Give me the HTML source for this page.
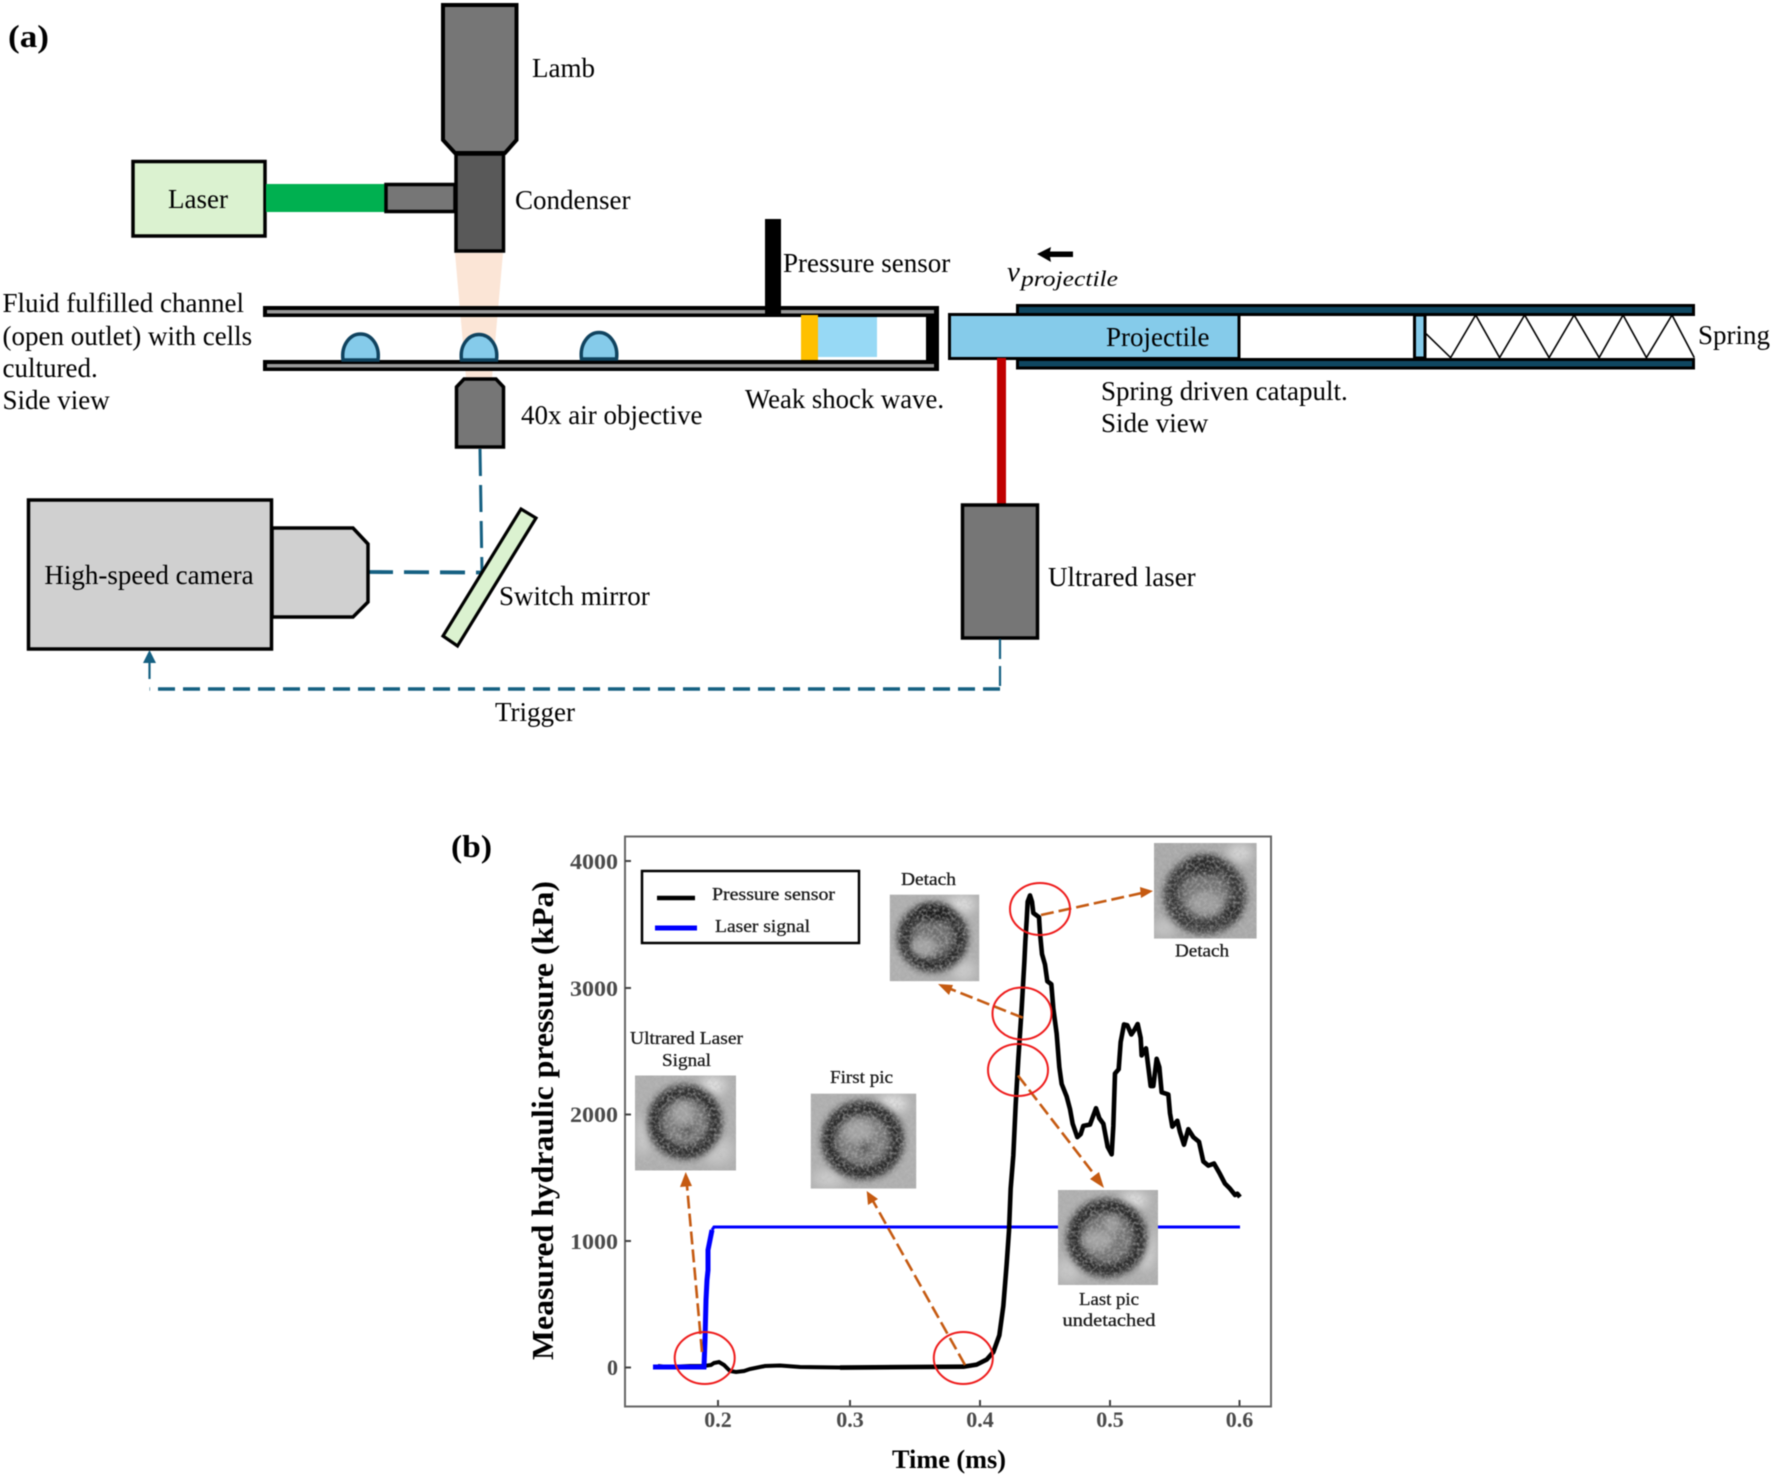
<!DOCTYPE html>
<html>
<head>
<meta charset="utf-8">
<style>
html,body{margin:0;padding:0;background:#fff}
svg{display:block}
#root{filter:blur(0.45px)}
text{font-family:"Liberation Serif",serif;fill:#000}
.t{font-size:27px}
.c{font-size:18px;fill:#1a1a1a;stroke:#1a1a1a;stroke-width:.3px}
.tick{font-size:22px;font-weight:bold;fill:#4a4a4a}
</style>
</head>
<body>
<svg id="root" width="1772" height="1477" viewBox="0 0 1772 1477" xmlns="http://www.w3.org/2000/svg">
<defs>
<filter id="b2" x="-30%" y="-30%" width="160%" height="160%"><feGaussianBlur stdDeviation="3.2"/></filter>
<filter id="b3" x="-30%" y="-30%" width="160%" height="160%"><feGaussianBlur stdDeviation="3.5"/></filter>
<filter id="b6" x="-50%" y="-50%" width="200%" height="200%"><feGaussianBlur stdDeviation="5"/></filter>
<filter id="noise" x="0" y="0" width="100%" height="100%">
<feTurbulence type="fractalNoise" baseFrequency="0.34" numOctaves="2" seed="7"/>
<feColorMatrix type="matrix" values="0 0 0 0 0.5  0 0 0 0 0.5  0 0 0 0 0.5  1.4 0 0 0 -0.55"/>
</filter>
</defs>

<rect width="1772" height="1477" fill="#fff"/>

<!-- (a) -->
<text x="8" y="47" font-size="32" font-weight="bold" textLength="41" lengthAdjust="spacingAndGlyphs">(a)</text>

<!-- Lamb -->
<polygon points="443,5 516.5,5 516.5,140 505,153 455,153 443,140" fill="#767676" stroke="#000" stroke-width="4"/>
<text class="t" x="532" y="77">Lamb</text>

<!-- Laser -->
<rect x="133" y="161.5" width="132" height="74.5" fill="#dbf2d0" stroke="#000" stroke-width="3.5"/>
<text class="t" x="198" y="208" text-anchor="middle">Laser</text>
<rect x="266" y="184" width="120" height="28" fill="#00b050"/>
<rect x="386" y="184.5" width="69" height="27" fill="#767676" stroke="#000" stroke-width="3.5"/>

<!-- Condenser -->
<rect x="456" y="154" width="47.5" height="97" fill="#595959" stroke="#000" stroke-width="3.5"/>
<text class="t" x="515" y="209">Condenser</text>

<!-- Light cone -->
<polygon points="455,253 503,253 492,378 466,378" fill="#fbe5d6"/>

<!-- Channel -->
<rect x="926" y="306" width="13" height="65" fill="#000"/>
<rect x="263" y="306" width="676" height="11" fill="#000"/>
<rect x="267" y="310" width="667" height="3.5" fill="#999"/>
<rect x="263" y="360" width="676" height="11" fill="#000"/>
<rect x="267" y="364" width="667" height="3.5" fill="#999"/>

<!-- Pressure sensor -->
<rect x="765" y="219" width="16" height="96" fill="#000"/>
<text class="t" x="783" y="272">Pressure sensor</text>

<!-- shock -->
<rect x="818" y="317" width="59" height="40" fill="#97d9f5"/>
<rect x="801" y="315" width="17" height="45" fill="#ffc000"/>
<text class="t" x="745" y="408" textLength="199" lengthAdjust="spacingAndGlyphs">Weak shock wave.</text>

<!-- Cells -->
<path d="M343,360 C341,345 350,334 360.5,334 C371,334 380,345 378,360 Z" fill="#85cbea" stroke="#10435f" stroke-width="3.5"/>
<path d="M461.5,360 C459.5,345 468.5,334.5 479,334.5 C489.5,334.5 498.5,345 496.5,360 Z" fill="#85cbea" stroke="#10435f" stroke-width="3.5"/>
<path d="M581.5,359 C579.5,344 588.5,332.5 599,332.5 C609.5,332.5 618.5,344 616.5,359 Z" fill="#85cbea" stroke="#10435f" stroke-width="3.5"/>

<!-- Channel labels -->
<text class="t" x="2.5" y="312">Fluid fulfilled channel</text>
<text class="t" x="2.5" y="345">(open outlet) with cells</text>
<text class="t" x="2.5" y="377">cultured.</text>
<text class="t" x="2.5" y="409">Side view</text>

<!-- Objective -->
<polygon points="456.5,447 456.5,387 464,379 496,379 503.5,387 503.5,447" fill="#767676" stroke="#000" stroke-width="3.5"/>
<text class="t" x="521" y="424">40x air objective</text>

<!-- Optical path -->
<line x1="480" y1="449" x2="482" y2="573" stroke="#156082" stroke-width="3" stroke-dasharray="27 9"/>
<line x1="368" y1="572" x2="482" y2="572.5" stroke="#156082" stroke-width="3.8" stroke-dasharray="25 11"/>

<!-- Mirror -->
<polygon points="521,509 536,518 457.5,646 443,636" fill="#dbf2d0" stroke="#000" stroke-width="3.2"/>
<text class="t" x="499" y="605">Switch mirror</text>

<!-- Camera -->
<polygon points="272,528 353,528 368,544 368,602 353,617 272,617" fill="#d0d0d0" stroke="#000" stroke-width="3.5"/>
<rect x="28.5" y="500" width="243" height="149" fill="#d0d0d0" stroke="#000" stroke-width="3.5"/>
<text class="t" x="149" y="584" text-anchor="middle">High-speed camera</text>

<!-- Catapult -->
<rect x="1017.5" y="305.5" width="676" height="9" fill="#0f4761" stroke="#000" stroke-width="3"/>
<rect x="1017.5" y="359.5" width="676" height="8.5" fill="#0f4761" stroke="#000" stroke-width="3"/>
<rect x="949.5" y="314.5" width="289.5" height="44" fill="#85cbea" stroke="#000" stroke-width="3"/>
<text class="t" x="1106" y="346">Projectile</text>
<rect x="1414.5" y="315" width="10.5" height="43" fill="#85cbea" stroke="#000" stroke-width="3"/>
<g transform="translate(900,200) scale(0.5562,0.3333)">
<polyline points="945,400 990,473 1035,345 1078,473 1123,345 1167,473 1212,345 1257,473 1300,345 1342,473 1388,345 1428,473" fill="none" stroke="#000" stroke-width="1.6" vector-effect="non-scaling-stroke"/>
</g>
<text class="t" x="1698" y="344">Spring</text>
<text class="t" x="1101" y="400">Spring driven catapult.</text>
<text class="t" x="1101" y="432">Side view</text>

<!-- v arrow -->
<polygon points="1037,254 1051,247 1050,251.5 1073,251.5 1073,257 1050,257 1051,262" fill="#000"/>
<text x="1007" y="281" font-size="29" font-style="italic">v</text>
<text x="1021" y="286" font-size="22" font-style="italic" textLength="97" lengthAdjust="spacingAndGlyphs">projectile</text>

<!-- Ultrared -->
<rect x="997" y="358" width="9" height="147" fill="#c00000"/>
<rect x="962.5" y="505" width="75" height="133" fill="#767676" stroke="#000" stroke-width="3.5"/>
<text class="t" x="1048" y="586">Ultrared laser</text>

<!-- Trigger -->
<line x1="1000" y1="639" x2="1000" y2="689" stroke="#156082" stroke-width="2.2" stroke-dasharray="20 7"/>
<line x1="1000" y1="689" x2="149.5" y2="689" stroke="#156082" stroke-width="3.6" stroke-dasharray="17 8"/>
<line x1="149.5" y1="679" x2="149.5" y2="660" stroke="#156082" stroke-width="2.2"/>
<polygon points="149.5,650 156,663 143,663" fill="#156082"/>
<text class="t" x="495" y="721">Trigger</text>

<!-- (b) -->
<text x="451" y="857" font-size="32" font-weight="bold" textLength="41" lengthAdjust="spacingAndGlyphs">(b)</text>

<!-- Plot frame -->
<rect x="625" y="836.5" width="646" height="570" fill="none" stroke="#666" stroke-width="2"/>
<g stroke="#444" stroke-width="2">
<line x1="625" y1="861" x2="631" y2="861"/>
<line x1="625" y1="988" x2="631" y2="988"/>
<line x1="625" y1="1114.5" x2="631" y2="1114.5"/>
<line x1="625" y1="1241" x2="631" y2="1241"/>
<line x1="625" y1="1367.5" x2="631" y2="1367.5"/>
<line x1="718" y1="1406" x2="718" y2="1400"/>
<line x1="850" y1="1406" x2="850" y2="1400"/>
<line x1="980" y1="1406" x2="980" y2="1400"/>
<line x1="1110" y1="1406" x2="1110" y2="1400"/>
<line x1="1239.5" y1="1406" x2="1239.5" y2="1400"/>
</g>
<text class="tick" x="618" y="869" text-anchor="end" textLength="48" lengthAdjust="spacingAndGlyphs">4000</text>
<text class="tick" x="618" y="996" text-anchor="end" textLength="48" lengthAdjust="spacingAndGlyphs">3000</text>
<text class="tick" x="618" y="1122" text-anchor="end" textLength="48" lengthAdjust="spacingAndGlyphs">2000</text>
<text class="tick" x="618" y="1249" text-anchor="end" textLength="48" lengthAdjust="spacingAndGlyphs">1000</text>
<text class="tick" x="618" y="1375" text-anchor="end">0</text>
<text class="tick" x="718" y="1427" text-anchor="middle">0.2</text>
<text class="tick" x="850" y="1427" text-anchor="middle">0.3</text>
<text class="tick" x="980" y="1427" text-anchor="middle">0.4</text>
<text class="tick" x="1110" y="1427" text-anchor="middle">0.5</text>
<text class="tick" x="1239.5" y="1427" text-anchor="middle">0.6</text>
<text transform="translate(553,1360) rotate(-90)" font-size="31" font-weight="bold" textLength="479" lengthAdjust="spacingAndGlyphs">Measured hydraulic pressure (kPa)</text>
<text x="892" y="1468" font-size="26" font-weight="bold" textLength="114" lengthAdjust="spacingAndGlyphs">Time (ms)</text>

<!-- Legend -->
<rect x="642" y="871" width="217" height="72" fill="#fff" stroke="#000" stroke-width="2.5"/>
<line x1="657" y1="898" x2="695" y2="898" stroke="#000" stroke-width="4.5"/>
<line x1="655" y1="928" x2="697" y2="928" stroke="#0000ff" stroke-width="5"/>
<text class="c" x="712" y="900" textLength="123" lengthAdjust="spacingAndGlyphs">Pressure sensor</text>
<text class="c" x="715" y="932" textLength="95" lengthAdjust="spacingAndGlyphs">Laser signal</text>

<!-- Signals -->
<polyline points="658,1366 668,1367 690,1366 704,1366 711,1365 714,1363 719,1362 724,1365 730,1371 736,1372 744,1371 750,1369 765,1366 780,1365.5 800,1367 840,1367.5" fill="none" stroke="#000" stroke-width="4"/>
<polyline points="1240,1227 714,1227 712,1230" fill="none" stroke="#0000ff" stroke-width="3"/>
<polyline points="712,1230 710,1240 708,1250 708,1270 707,1280 706,1300 705,1340 704,1367 653,1367" fill="none" stroke="#0000ff" stroke-width="5"/>
<g transform="translate(840,820) scale(0.33333,0.41894)">
<polyline points="0,1307 370,1305 410,1300 440,1288 460,1270 478,1230 490,1160 500,1060 507,980 512,880 520,800 527,680 535,570 545,450 553,340 556,290 560,240 563,195 570,180 576,195 580,222 597,232 600,270 606,320 615,345 622,385 634,392 640,450 650,510 658,590 665,630 680,660 690,690 698,725 712,757 722,750 730,730 750,727 768,688 778,712 790,725 803,780 815,798 820,730 825,605 836,595 842,530 852,488 862,490 874,512 884,500 893,487 902,520 905,562 918,545 925,590 932,635 940,635 950,570 958,590 965,650 985,655 990,700 997,732 1012,718 1020,745 1032,775 1045,738 1060,757 1077,768 1090,815 1105,825 1122,820 1140,845 1155,868 1170,880 1185,895 1192,892 1200,900" fill="none" stroke="#000" stroke-width="4.6" stroke-linejoin="round" vector-effect="non-scaling-stroke"/>
</g>

<!-- Cell images -->
<svg x="635" y="1075.5" width="101" height="95" viewBox="0 0 101 95">
<rect width="101" height="95" fill="#aeaeae"/>
<ellipse cx="78" cy="10" rx="13" ry="9" fill="#e2e2e2" filter="url(#b6)"/>
<ellipse cx="8" cy="60" rx="7" ry="20" fill="#cccccc" filter="url(#b6)"/>
<ellipse cx="82" cy="75" rx="16" ry="14" fill="#c8c8c8" filter="url(#b6)"/>
<ellipse cx="50" cy="46.5" rx="30" ry="30" fill="#7a7a7a" stroke="#2e2e2e" stroke-width="15" filter="url(#b2)"/>
<ellipse cx="48" cy="38" rx="11" ry="12" fill="#a0a0a0" filter="url(#b3)"/>
<ellipse cx="52" cy="55" rx="5" ry="5" fill="#555" filter="url(#b2)"/>
<rect width="101" height="95" filter="url(#noise)"/>
</svg>
<svg x="810.7" y="1093.6" width="105.6" height="95" viewBox="0 0 105.6 95">
<rect width="105.6" height="95" fill="#aeaeae"/>
<ellipse cx="82" cy="10" rx="15" ry="9" fill="#e4e4e4" filter="url(#b6)"/>
<ellipse cx="18" cy="85" rx="16" ry="9" fill="#cccccc" filter="url(#b6)"/>
<ellipse cx="52" cy="46.5" rx="34" ry="32" fill="#7b7b7b" stroke="#2c2c2c" stroke-width="15" filter="url(#b2)"/>
<ellipse cx="48" cy="38" rx="15" ry="12" fill="#a2a2a2" filter="url(#b3)"/>
<ellipse cx="54" cy="54" rx="4" ry="7" fill="#555" filter="url(#b2)"/>
<rect width="105.6" height="95" filter="url(#noise)"/>
</svg>
<svg x="889.7" y="894.6" width="89.6" height="86.7" viewBox="0 0 89.6 86.7">
<rect width="89.6" height="86.7" fill="#aeaeae"/>
<ellipse cx="72" cy="10" rx="14" ry="9" fill="#dedede" filter="url(#b6)"/>
<ellipse cx="74" cy="76" rx="12" ry="10" fill="#cccccc" filter="url(#b6)"/>
<ellipse cx="43" cy="43" rx="28" ry="27" fill="#6e6e6e" stroke="#2b2b2b" stroke-width="15" filter="url(#b2)"/>
<ellipse cx="34" cy="52" rx="13" ry="10" fill="#a2a2a2" filter="url(#b3)"/>
<ellipse cx="44" cy="18" rx="16" ry="8" fill="#1f1f1f" filter="url(#b3)"/>
<rect width="89.6" height="86.7" filter="url(#noise)"/>
</svg>
<svg x="1154" y="843" width="102.7" height="95.6" viewBox="0 0 102.7 95.6">
<rect width="102.7" height="95.6" fill="#a8a8a8"/>
<ellipse cx="86" cy="10" rx="13" ry="9" fill="#d8d8d8" filter="url(#b6)"/>
<ellipse cx="10" cy="85" rx="13" ry="9" fill="#c4c4c4" filter="url(#b6)"/>
<ellipse cx="51" cy="52" rx="33" ry="31" fill="#737373" stroke="#383838" stroke-width="17" filter="url(#b3)"/>
<ellipse cx="52" cy="60" rx="17" ry="12" fill="#9c9c9c" filter="url(#b3)"/>
<ellipse cx="50" cy="22" rx="17" ry="9" fill="#2c2c2c" filter="url(#b3)"/>
<ellipse cx="78" cy="68" rx="7" ry="7" fill="#262626" filter="url(#b3)"/>
<rect width="102.7" height="95.6" filter="url(#noise)"/>
</svg>
<svg x="1058" y="1190" width="100" height="95" viewBox="0 0 100 95">
<rect width="100" height="95" fill="#aeaeae"/>
<ellipse cx="76" cy="10" rx="14" ry="8" fill="#e2e2e2" filter="url(#b6)"/>
<ellipse cx="88" cy="60" rx="10" ry="20" fill="#d0d0d0" filter="url(#b6)"/>
<ellipse cx="10" cy="80" rx="12" ry="12" fill="#c8c8c8" filter="url(#b6)"/>
<ellipse cx="49" cy="48" rx="33" ry="32" fill="#757575" stroke="#2c2c2c" stroke-width="15" filter="url(#b2)"/>
<ellipse cx="40" cy="50" rx="15" ry="10" fill="#a2a2a2" filter="url(#b3)"/>
<ellipse cx="54" cy="35" rx="8" ry="9" fill="#9c9c9c" filter="url(#b3)"/>
<rect width="100" height="95" filter="url(#noise)"/>
</svg>

<text class="c" x="630" y="1044" textLength="113" lengthAdjust="spacingAndGlyphs">Ultrared Laser</text>
<text class="c" x="662" y="1066" textLength="49" lengthAdjust="spacingAndGlyphs">Signal</text>
<text class="c" x="830" y="1083" textLength="63" lengthAdjust="spacingAndGlyphs">First pic</text>
<text class="c" x="901" y="885" textLength="55" lengthAdjust="spacingAndGlyphs">Detach</text>
<text class="c" x="1175" y="956.5" textLength="54" lengthAdjust="spacingAndGlyphs">Detach</text>
<text class="c" x="1079" y="1305" textLength="60" lengthAdjust="spacingAndGlyphs">Last pic</text>
<text class="c" x="1062.5" y="1326" textLength="93" lengthAdjust="spacingAndGlyphs">undetached</text>

<!-- Arrows -->
<g stroke="#c55a11" stroke-width="2.6" stroke-dasharray="13 5" fill="none">
<line x1="702" y1="1352" x2="687" y2="1186"/>
<line x1="965" y1="1365" x2="873" y2="1201"/>
<line x1="1022.7" y1="1017.7" x2="948" y2="988"/>
<line x1="1041" y1="915" x2="1142" y2="893"/>
<line x1="1018" y1="1075.5" x2="1097" y2="1178"/>
</g>
<g fill="#c55a11">
<polygon points="685.7,1172 692,1186 680,1187"/>
<polygon points="866.7,1191 878,1199 868,1205"/>
<polygon points="938,984 953,985 949,995"/>
<polygon points="1153,891 1140,887 1141,898"/>
<polygon points="1104,1188 1090,1179 1099,1172"/>
</g>

<!-- Red circles -->
<g fill="none" stroke="#ee1c1c" stroke-width="2">
<ellipse cx="704.7" cy="1358" rx="30" ry="26"/>
<ellipse cx="963.3" cy="1358" rx="29.5" ry="26"/>
<ellipse cx="1040" cy="909" rx="30" ry="26"/>
<ellipse cx="1022" cy="1013.5" rx="29.5" ry="26"/>
<ellipse cx="1018" cy="1070" rx="30" ry="26"/>
</g>
</svg>
</body>
</html>
